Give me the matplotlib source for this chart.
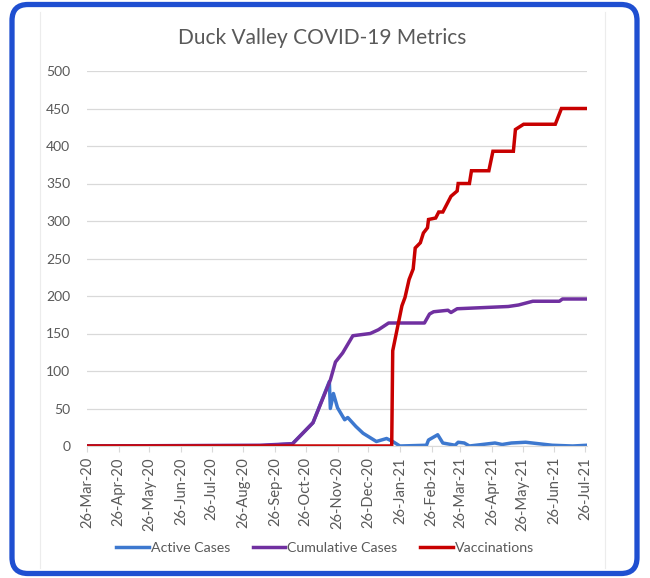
import matplotlib
matplotlib.use("Agg")
import matplotlib.pyplot as plt
import matplotlib.dates as mdates
from matplotlib.patches import FancyBboxPatch
import numpy as np

plt.rcParams['font.family'] = ['Lato', 'DejaVu Sans']

# values (dates are break points of each line)
active_dates = ['2020-03-26', '2020-09-11', '2020-10-13', '2020-11-02', '2020-11-18',
                '2020-11-19', '2020-11-22', '2020-11-26', '2020-12-03', '2020-12-06',
                '2020-12-14', '2020-12-21', '2021-01-03', '2021-01-13', '2021-01-19',
                '2021-01-26', '2021-02-21', '2021-02-23', '2021-03-04', '2021-03-09',
                '2021-03-21', '2021-03-24', '2021-03-30', '2021-04-04', '2021-04-29',
                '2021-05-06', '2021-05-15', '2021-05-29', '2021-06-24', '2021-07-14',
                '2021-07-28']
active_vals = [0, 0, 3, 31, 86, 50, 70, 51, 35, 38, 26, 17, 6, 10, 6,
               0, 1, 8, 15, 4, 1, 5, 4, 0, 4, 2, 4, 5, 1, 0, 1]

cumul_dates = ['2020-03-26', '2020-09-11', '2020-10-13', '2020-11-02', '2020-11-19',
               '2020-11-24', '2020-12-01', '2020-12-11', '2020-12-28', '2021-01-05',
               '2021-01-15', '2021-02-19', '2021-02-24', '2021-02-28', '2021-03-14',
               '2021-03-17', '2021-03-23', '2021-05-12', '2021-05-22', '2021-06-05',
               '2021-07-01', '2021-07-04', '2021-07-28']
cumul_vals = [0, 1, 3, 31, 88, 112, 124, 147, 150, 155, 164, 164, 176, 179, 181,
              178, 183, 186, 188, 193, 193, 196, 196]

vacc_dates = ['2020-03-26', '2021-01-18', '2021-01-19', '2021-01-28', '2021-01-31',
              '2021-02-04', '2021-02-08', '2021-02-10', '2021-02-15', '2021-02-18',
              '2021-02-22', '2021-02-23', '2021-03-02', '2021-03-05', '2021-03-09',
              '2021-03-17', '2021-03-23', '2021-03-24', '2021-04-04', '2021-04-06',
              '2021-04-23', '2021-04-27', '2021-05-17', '2021-05-19', '2021-05-27',
              '2021-06-27', '2021-07-03', '2021-07-28']
vacc_vals = [0, 0, 127, 187, 198, 222, 236, 264, 271, 284, 291, 302, 304, 312, 312,
             333, 340, 350, 350, 367, 367, 393, 393, 422, 429, 429, 450, 450]

W, H = 650, 578
fig = plt.figure(figsize=(W / 100, H / 100), dpi=100)

# background with the rounded blue frame
bg = fig.add_axes([0, 0, 1, 1], zorder=0)
bg.set_xlim(0, W)
bg.set_ylim(H, 0)
bg.axis('off')
bg.add_patch(FancyBboxPatch((12, 4.5), 625, 569, boxstyle="round,pad=0,rounding_size=16",
                            lw=3.8, ec='#1f4fd1', fc='white'))
bg.plot([40, 40], [12, 568], color='#ececec', lw=0.8)
bg.plot([605, 605], [12, 568], color='#ececec', lw=0.8)

ax = fig.add_axes([87 / W, 1 - 446 / H, 500 / W, 375 / H], zorder=1)
ax.set_facecolor('none')

ax.plot(np.array(active_dates, dtype='datetime64[D]'), active_vals, color='#3d78cf',
        lw=2.5, label='Active Cases', solid_joinstyle='round')
ax.plot(np.array(cumul_dates, dtype='datetime64[D]'), cumul_vals, color='#7030A0',
        lw=2.5, label='Cumulative Cases', solid_joinstyle='round')
ax.plot(np.array(vacc_dates, dtype='datetime64[D]'), vacc_vals, color='#C80000',
        lw=2.5, label='Vaccinations', solid_joinstyle='miter')

ax.set_xlim(np.datetime64('2020-03-26'), np.datetime64('2021-07-28'))
ax.set_ylim(0, 500)
ax.set_yticks(range(0, 501, 50))
ax.xaxis.set_major_locator(mdates.MonthLocator(bymonthday=26))
ax.xaxis.set_major_formatter(mdates.DateFormatter('%d-%b-%y'))
ax.grid(axis='y', color='#d9d9d9', lw=0.9)
ax.set_axisbelow(True)
for s in ['top', 'right', 'left']:
    ax.spines[s].set_visible(False)
ax.spines['bottom'].set_color('#d9d9d9')
ax.tick_params(axis='y', length=0, pad=12, labelsize=10, labelcolor='#595959')
ax.tick_params(axis='x', length=4, color='#d9d9d9', pad=4, labelsize=10.6,
               labelcolor='#595959', labelrotation=90)

fig.text(322 / W, 1 - 38 / H, 'Duck Valley COVID-19 Metrics', ha='center', va='center',
         fontsize=15, color='#595959')

fig.legend(loc='center', bbox_to_anchor=(325 / W, 1 - 548 / H), ncol=3, frameon=False,
           fontsize=10.2, labelcolor='#595959', handlelength=2.3, handletextpad=0.15,
           columnspacing=1.6)

fig.savefig('out.png', dpi=100)
